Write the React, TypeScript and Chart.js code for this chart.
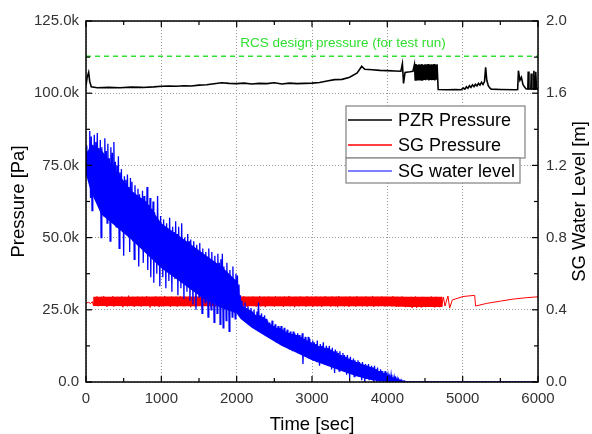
import React, { useEffect, useRef } from "react";
import { Chart, registerables } from "chart.js";

Chart.register(...registerables);

// ---------------- DATA ----------------
// PZR pressure (k Pa), explicit time (s) / value pairs
const pzrTime = [
  0, 15, 35, 50, 70, 150, 300, 450, 600, 750, 900, 1000, 1100, 1200, 1300, 1400, 1500, 1600, 1700, 1800,
  1900, 2000, 2100, 2200, 2300, 2400, 2500, 2600, 2700, 2800, 2900, 3000, 3100, 3200, 3300, 3400, 3500, 3600,
  3660, 3700, 3800, 3900, 4000, 4100, 4180, 4200, 4215, 4235, 4300, 4340,
  4360, 4370, 4380, 4390, 4400, 4410, 4420, 4430, 4440, 4450, 4460, 4470, 4480, 4490, 4500, 4510, 4520,
  4530, 4540, 4550, 4560, 4570, 4580, 4590, 4600, 4610, 4620, 4630, 4640, 4650, 4660,
  4675, 4800, 4900, 4980, 5010, 5030, 5050, 5070, 5090, 5110, 5130, 5150, 5170, 5190, 5210, 5230, 5250,
  5270, 5290, 5305, 5320, 5340, 5360, 5380, 5500, 5700, 5730, 5740, 5760, 5780, 5800, 5820, 5840, 5865,
  5870, 5880, 5905, 5910, 5920, 5940, 5945, 5955, 5965, 5970, 5980, 6000,
];
const pzrPressure = [
  102.6, 105.5, 107.2, 104.0, 102.2, 101.9, 102.0, 101.9, 102.1, 102.0, 102.2, 102.4, 102.5, 102.4, 102.6,
  102.5, 102.8, 102.9, 103.3, 103.6, 103.4, 103.3, 103.5, 103.2, 103.4, 103.3, 103.6, 103.2, 103.5, 103.3,
  103.4, 103.5, 103.7, 104.2, 104.7, 104.8, 105.5, 107.0, 109.3, 108.3, 108.1, 107.9, 107.8, 107.7, 107.6,
  110.2, 103.4, 107.2, 107.4, 107.6,
  109.9, 104.6, 110.1, 104.4, 109.8, 104.7, 110.0, 104.5, 109.9, 104.6, 110.1, 104.4, 109.8, 104.6, 110.0,
  104.5, 109.9, 104.7, 110.1, 104.4, 109.8, 104.6, 110.0, 104.5, 109.9, 104.6, 110.1, 104.4, 109.8, 104.7,
  110.0,
  101.3, 101.2, 101.3, 101.2, 101.8, 101.4, 102.2, 101.7, 102.6, 102.0, 102.9, 102.3, 103.1, 102.5, 103.4,
  102.8, 103.8, 103.0, 104.0, 109.0, 104.5, 102.6, 101.8, 101.4, 101.3, 101.2, 101.3, 107.8, 104.5, 105.5,
  103.0, 102.2, 101.5, 101.4, 107.5, 101.5, 101.4, 106.8, 101.5, 101.4, 107.8, 101.5, 101.4, 107.4, 101.5,
  101.5,
];

// SG pressure (k Pa)
const sgPressureHeadTime = [0, 30, 60, 85];
const sgPressureHead = [27.3, 27.6, 27.2, 27.8];
const SG_P_START = 100; // s, first sample of the noisy record
const SG_P_STEP = 15; // s, sampling interval of the noisy record
const sgPressureNoisy = [
  26.4, 29.3, 26.7, 29.6, 26.2, 29.0, 26.9, 29.5, 26.3, 29.8, 26.6, 29.2, 26.0, 29.4, 26.8, 29.1, 26.4, 29.7, 26.1, 29.3,
  26.7, 29.5, 26.3, 29.0, 26.5, 29.6, 25.9, 29.2, 26.6, 29.4, 26.2, 29.9, 26.8, 29.1, 26.3, 29.5, 26.0, 29.3, 26.7, 29.6,
  26.4, 29.2, 26.1, 29.5, 26.6, 29.0, 26.3, 29.7, 26.8, 29.3, 25.8, 29.4, 26.5, 29.1, 26.2, 29.6, 26.7, 29.2, 26.0, 29.5,
  26.5, 29.3, 26.2, 29.8, 26.6, 29.1, 26.4, 29.4, 26.0, 29.6, 26.7, 29.2, 26.3, 29.5, 26.1, 29.0, 26.6, 29.7, 26.4, 29.3,
  26.2, 29.5, 26.8, 29.1, 26.3, 29.6, 25.9, 29.3, 26.5, 29.4, 26.1, 29.8, 26.6, 29.2, 26.4, 29.5, 26.0, 29.1, 26.7, 29.6,
  26.3, 29.2, 26.6, 29.4, 26.1, 29.7, 26.5, 29.0, 26.2, 29.5, 26.8, 29.3, 26.0, 29.6, 26.4, 29.2, 26.7, 29.9, 26.2, 29.4,
  26.5, 29.1, 26.1, 29.5, 26.6, 29.3, 25.8, 29.6, 26.4, 29.2, 26.7, 29.4, 26.2, 29.7, 26.5, 29.0, 26.0, 29.5, 26.6, 29.3,
  26.3, 29.6, 26.7, 29.2, 26.1, 29.4, 26.5, 29.8, 26.2, 29.1, 26.6, 29.5, 25.9, 29.3, 26.4, 29.6, 26.8, 29.2, 26.3, 29.4,
  26.1, 29.7, 26.5, 29.0, 26.3, 29.5, 26.7, 29.3, 26.0, 29.6, 26.4, 29.2, 26.6, 29.8, 26.2, 29.4, 26.5, 29.1, 25.9, 29.5,
  26.6, 29.3, 26.2, 29.6, 26.4, 29.1, 26.8, 29.4, 26.1, 29.7, 26.5, 29.2, 26.3, 29.5, 26.0, 29.3, 26.7, 29.6, 26.2, 29.0,
  26.4, 29.5, 26.0, 29.3, 26.6, 29.7, 26.3, 29.1, 26.5, 29.4, 26.1, 29.6, 26.7, 29.2, 26.2, 29.5, 25.9, 29.8, 26.4, 29.3,
  26.6, 29.1, 26.2, 29.5, 26.5, 29.3, 26.0, 29.6, 26.7, 29.2, 26.3, 29.4, 26.1, 29.7, 26.6, 29.0, 26.4, 29.5, 26.2, 29.3,
  26.5, 29.6, 26.1, 29.2, 26.7, 29.4, 26.3, 29.8, 26.0, 29.1, 26.5, 29.5, 26.2, 29.3, 26.6, 29.6, 26.4, 29.2, 26.1, 29.5,
  26.3, 29.4, 26.6, 29.0, 26.2, 29.7, 26.5, 29.3, 26.0, 29.5, 26.1, 29.2, 26.3, 29.6, 26.4, 29.1, 25.9, 29.4, 26.3, 29.3,
  26.0, 29.5, 25.6, 29.2, 26.2, 29.6, 25.7, 29.3, 26.4, 29.0, 25.8, 29.5, 26.6, 29.2, 25.9, 29.4, 26.3, 29.1, 26.0, 29.6,
  26.2, 29.3, 25.8, 29.5, 26.4, 29.0, 25.9, 29.4, 26.1,
];
const sgPressureTailTime = [4745, 4765, 4805, 4827, 4863, 5004, 5159, 5172, 5315, 5500, 5668, 5850, 6000];
const sgPressureTail = [29.4, 26.3, 29.8, 25.6, 28.4, 29.6, 30.0, 26.3, 27.2, 28.0, 28.7, 29.2, 29.5];
// dense core of the SG pressure noise band (k Pa)
const sgPressureCoreTime = [95, 1000, 2000, 3000, 4000, 4300, 4735];
const sgPressureCoreHigh = [29.5, 29.6, 29.6, 29.6, 29.6, 29.5, 29.5];
const sgPressureCoreLow = [26.3, 26.2, 26.2, 26.2, 26.2, 26.0, 26.0];

// SG water level (m)
const SG_L_STEP = 10; // s, sampling interval of the noisy record (starts at 0 s)
const sgLevelNoisy = [
  1.20, 1.31, 1.13, 1.28, 1.15, 1.39, 1.02, 1.36, 0.95, 1.30, 1.08, 1.37, 1.04, 1.33, 1.10, 1.38, 1.00, 1.29, 1.06, 1.34,
  0.80, 1.30, 1.00, 1.26, 0.92, 1.35, 1.02, 1.28, 0.88, 1.32, 0.97, 1.24, 0.78, 1.30, 0.95, 1.27, 0.90, 1.33, 0.98, 1.22,
  0.86, 1.20, 0.95, 1.25, 0.74, 1.16, 0.92, 1.18, 0.85, 1.10, 0.70, 1.14, 0.90, 1.12, 0.82, 1.15, 0.88, 1.08, 0.72, 1.13,
  0.84, 1.11, 0.78, 1.05, 0.68, 1.09, 0.86, 1.02, 0.80, 1.07, 0.64, 1.04, 0.82, 1.00, 0.75, 1.06, 0.66, 1.03, 0.79, 0.98,
  0.72, 1.08, 0.62, 0.98, 0.76, 1.02, 0.58, 0.96, 0.70, 1.00, 0.55, 0.94, 0.73, 0.90, 0.60, 1.03, 0.68, 0.88, 0.53, 0.92,
  0.70, 0.86, 0.58, 0.90, 0.66, 0.84, 0.52, 0.88, 0.64, 0.82, 0.56, 0.91, 0.62, 0.80, 0.50, 0.86, 0.65, 0.83, 0.57, 0.89,
  0.60, 0.82, 0.48, 0.86, 0.63, 0.78, 0.52, 0.88, 0.58, 0.76, 0.46, 0.80, 0.61, 0.74, 0.50, 0.82, 0.55, 0.78, 0.45, 0.79,
  0.58, 0.74, 0.43, 0.78, 0.55, 0.70, 0.40, 0.76, 0.52, 0.72, 0.47, 0.77, 0.56, 0.68, 0.38, 0.74, 0.50, 0.70, 0.44, 0.72,
  0.52, 0.68, 0.36, 0.74, 0.48, 0.66, 0.40, 0.72, 0.50, 0.64, 0.33, 0.70, 0.46, 0.62, 0.38, 0.71, 0.45, 0.66, 0.32, 0.68,
  0.44, 0.71, 0.30, 0.64, 0.42, 0.60, 0.34, 0.66, 0.40, 0.58, 0.28, 0.62, 0.43, 0.56, 0.36, 0.64, 0.39, 0.55, 0.35, 0.60,
  0.40, 0.59, 0.38, 0.54, 0.39, 0.48, 0.36, 0.45, 0.38, 0.42, 0.35, 0.44, 0.37, 0.41, 0.34, 0.42, 0.36, 0.40, 0.33, 0.41,
  0.34, 0.39, 0.31, 0.40, 0.33, 0.37, 0.30, 0.39, 0.32, 0.44, 0.30, 0.37, 0.29, 0.38, 0.31, 0.36, 0.28, 0.37, 0.30, 0.35,
  0.29, 0.34, 0.26, 0.33, 0.28, 0.32, 0.24, 0.34, 0.27, 0.31, 0.25, 0.32, 0.22, 0.30, 0.26, 0.31, 0.24, 0.30, 0.22, 0.31,
  0.25, 0.29, 0.20, 0.30, 0.23, 0.28, 0.19, 0.29, 0.22, 0.27, 0.18, 0.28, 0.21, 0.26, 0.17, 0.28, 0.20, 0.27, 0.18, 0.26,
  0.19, 0.27, 0.16, 0.26, 0.20, 0.25, 0.15, 0.27, 0.10, 0.24, 0.17, 0.25, 0.14, 0.23, 0.18, 0.25, 0.13, 0.24, 0.16, 0.22,
  0.15, 0.23, 0.12, 0.22, 0.16, 0.21, 0.11, 0.23, 0.14, 0.20, 0.09, 0.21, 0.13, 0.20, 0.11, 0.22, 0.12, 0.19, 0.10, 0.20,
  0.12, 0.19, 0.09, 0.20, 0.11, 0.18, 0.07, 0.19, 0.10, 0.17, 0.05, 0.18, 0.09, 0.17, 0.08, 0.16, 0.06, 0.17, 0.09, 0.15,
  0.08, 0.16, 0.06, 0.15, 0.09, 0.14, 0.04, 0.15, 0.07, 0.13, 0.02, 0.14, 0.06, 0.12, 0.05, 0.13, 0.03, 0.12, 0.06, 0.11,
  0.04, 0.12, 0.03, 0.11, 0.05, 0.10, 0.01, 0.11, 0.03, 0.09, 0.00, 0.10, 0.02, 0.09, 0.04, 0.10, 0.01, 0.08, 0.02, 0.09,
  0.01, 0.08, 0.00, 0.09, 0.02, 0.07, 0.00, 0.08, 0.01, 0.06, 0.00, 0.07, 0.02, 0.06, 0.00, 0.05, 0.01, 0.06, 0.00, 0.05,
  0.00, 0.04, 0.01, 0.03, 0.00, 0.04, 0.00, 0.02, 0.01, 0.03, 0.00, 0.02, 0.00, 0.02, 0.00, 0.015, 0.00, 0.01, 0.00, 0.01,
  0.00, 0.005, 0.00, 0.005, 0.00, 0.00,
];
const sgLevelTailTime = [4260, 6000];
const sgLevelTail = [0, 0];
// dense core of the SG water level noise band (m)
const sgLevelCoreTime = [
  0, 60, 200, 400, 600, 800, 1000, 1200, 1400, 1600, 1800, 2000, 2050, 2200, 2400, 2600, 2800, 3000, 3200,
  3400, 3600, 3800, 4000, 4200,
];
const sgLevelCoreHigh = [
  1.25, 1.32, 1.29, 1.17, 1.06, 1.0, 0.88, 0.82, 0.76, 0.7, 0.64, 0.56, 0.43, 0.39, 0.32, 0.28, 0.26, 0.21,
  0.18, 0.14, 0.11, 0.08, 0.035, 0.005,
];
const sgLevelCoreLow = [
  1.15, 1.06, 0.93, 0.86, 0.79, 0.71, 0.63, 0.57, 0.51, 0.45, 0.41, 0.38, 0.35, 0.30, 0.25, 0.20, 0.16,
  0.12, 0.09, 0.06, 0.03, 0.01, 0.0, 0,
];

// RCS design pressure (k Pa)
const designPressure = 112.8;
const designLabel = "RCS design pressure (for test run)";

const legendLabels = ["PZR Pressure", "SG Pressure", "SG water level"];

// --------------------------------------
const FONT = 'Arial, "Liberation Sans", sans-serif';
const GREEN = "#30e030";

function pairs(t: number[], v: number[]) {
  return t.map((x, i) => ({ x, y: v[i] }));
}

const pzrData = pairs(pzrTime, pzrPressure);
const sgPData = [
  ...pairs(sgPressureHeadTime, sgPressureHead),
  ...sgPressureNoisy.map((y, i) => ({ x: SG_P_START + i * SG_P_STEP, y })),
  ...pairs(sgPressureTailTime, sgPressureTail),
];
const sgLData = [
  ...sgLevelNoisy.map((y, i) => ({ x: i * SG_L_STEP, y })),
  ...pairs(sgLevelTailTime, sgLevelTail),
];

const decorPlugin = {
  id: "decor",
  afterDatasetsDraw(chart: any) {
    const { ctx, chartArea: a, scales } = chart;
    const sx = scales.x, sy = scales.y, sy1 = scales.y1;
    ctx.save();
    ctx.strokeStyle = "#000";
    ctx.lineWidth = 1.2;
    const line = (x0: number, y0: number, x1: number, y1: number) => {
      ctx.beginPath();
      ctx.moveTo(x0, y0);
      ctx.lineTo(x1, y1);
      ctx.stroke();
    };
    for (let v = 0; v <= 6000; v += 500) {
      const px = sx.getPixelForValue(v);
      const len = v % 1000 === 0 ? 6 : 4;
      line(px, a.bottom, px, a.bottom - len);
      line(px, a.top, px, a.top + len);
    }
    for (let v = 0; v <= 125; v += 12.5) {
      const py = sy.getPixelForValue(v);
      const len = v % 25 === 0 ? 6 : 4;
      line(a.left, py, a.left + len, py);
    }
    for (let k = 0; k <= 10; k++) {
      const py = sy1.getPixelForValue(k * 0.2);
      const len = k % 2 === 0 ? 6 : 4;
      line(a.right, py, a.right - len, py);
    }
    ctx.lineWidth = 1.5;
    ctx.strokeRect(a.left, a.top, a.right - a.left, a.bottom - a.top);
    ctx.restore();
  },
  afterDraw(chart: any) {
    const { ctx, chartArea: a } = chart;
    ctx.save();
    // design pressure label
    ctx.fillStyle = GREEN;
    ctx.font = `13.5px ${FONT}`;
    ctx.textAlign = "center";
    ctx.textBaseline = "middle";
    ctx.fillText(designLabel, 343, 43);

    // right axis title
    ctx.save();
    ctx.translate(580, (a.top + a.bottom) / 2);
    ctx.rotate(-Math.PI / 2);
    ctx.fillStyle = "#000";
    ctx.font = `18.5px ${FONT}`;
    ctx.textAlign = "center";
    ctx.textBaseline = "middle";
    ctx.fillText("SG Water Level [m]", 0, 0);
    ctx.restore();

    // legend (two boxes as in the original)
    ctx.fillStyle = "#fff";
    ctx.strokeStyle = "#8a8a8a";
    ctx.lineWidth = 1.3;
    ctx.fillRect(346, 106, 179, 52);
    ctx.strokeRect(346, 106, 179, 52);
    ctx.fillRect(346, 158, 174, 25);
    ctx.strokeRect(346, 158, 174, 25);
    const colors = ["#000000", "#ff0000", "#0000ff"];
    const rows = [120, 145, 171];
    ctx.font = `18px ${FONT}`;
    ctx.textAlign = "left";
    ctx.textBaseline = "middle";
    legendLabels.forEach((lab, i) => {
      ctx.strokeStyle = colors[i];
      ctx.lineWidth = i === 2 ? 1.2 : 1.6;
      ctx.beginPath();
      ctx.moveTo(348, rows[i]);
      ctx.lineTo(392, rows[i]);
      ctx.stroke();
      ctx.fillStyle = "#000";
      ctx.fillText(lab, 398, rows[i] + 1);
    });
    ctx.restore();
  },
};

export default function App() {
  const ref = useRef<HTMLCanvasElement>(null);
  useEffect(() => {
    const gridColor = "#9a9a9a";
    const band = (data: any[], axis: string, color: string, fill: any) => ({
      data,
      yAxisID: axis,
      borderWidth: 0,
      borderColor: color,
      backgroundColor: color,
      pointRadius: 0,
      tension: 0,
      fill,
    });
    const chart = new Chart(ref.current as HTMLCanvasElement, {
      type: "line",
      data: {
        datasets: [
          {
            label: "SG water level",
            data: sgLData,
            yAxisID: "y1",
            borderColor: "#0000ff",
            borderWidth: 1.3,
            pointRadius: 0,
            tension: 0,
            fill: false,
          },
          band(pairs(sgLevelCoreTime, sgLevelCoreHigh), "y1", "#0000ff", "+1"),
          band(pairs(sgLevelCoreTime, sgLevelCoreLow), "y1", "#0000ff", false),
          {
            label: "SG Pressure",
            data: sgPData,
            yAxisID: "y",
            borderColor: "#ff0000",
            borderWidth: 1,
            pointRadius: 0,
            tension: 0,
            fill: false,
          },
          band(pairs(sgPressureCoreTime, sgPressureCoreHigh), "y", "#ff0000", 5),
          band(pairs(sgPressureCoreTime, sgPressureCoreLow), "y", "#ff0000", false),
          {
            label: "PZR Pressure",
            data: pzrData,
            yAxisID: "y",
            borderColor: "#000000",
            borderWidth: 1.6,
            pointRadius: 0,
            tension: 0,
            fill: false,
          },
          {
            label: "RCS design pressure",
            data: [
              { x: 0, y: designPressure },
              { x: 6000, y: designPressure },
            ],
            yAxisID: "y",
            borderColor: GREEN,
            borderWidth: 1.5,
            borderDash: [5, 4],
            pointRadius: 0,
            fill: false,
          },
        ],
      },
      options: {
        responsive: false,
        animation: false,
        devicePixelRatio: 1,
        layout: { padding: { top: 21, left: 0, right: 0, bottom: 0 } },
        plugins: { legend: { display: false }, tooltip: { enabled: false } },
        scales: {
          x: {
            type: "linear",
            min: 0,
            max: 6000,
            afterFit: (s: any) => {
              s.height = 52;
            },
            ticks: {
              stepSize: 1000,
              autoSkip: false,
              maxRotation: 0,
              padding: 8,
              color: "#333",
              font: { size: 15, family: FONT },
              callback: (v: any) => String(v),
            },
            grid: { drawTicks: false, color: gridColor, lineWidth: 1, borderDash: [1, 2] } as any,
            border: { display: false, dash: [1, 2] },
            title: {
              display: true,
              text: "Time [sec]",
              color: "#000",
              font: { size: 18.5, family: FONT, lineHeight: 1 },
              padding: { top: 0, bottom: 0 },
            },
          },
          y: {
            position: "left",
            min: 0,
            max: 125,
            afterFit: (s: any) => {
              s.width = 86;
            },
            ticks: {
              stepSize: 25,
              padding: 7,
              color: "#333",
              font: { size: 15, family: FONT },
              callback: (v: any) => (Number(v) === 0 ? "0.0" : Number(v).toFixed(1) + "k"),
            },
            grid: { drawTicks: false, color: gridColor, lineWidth: 1, borderDash: [1, 2] } as any,
            border: { display: false, dash: [1, 2] },
            title: {
              display: true,
              text: "Pressure [Pa]",
              color: "#000",
              font: { size: 18.5, family: FONT, lineHeight: 1 },
              padding: { top: 10, bottom: 0 },
            },
          },
          y1: {
            position: "right",
            min: 0,
            max: 2,
            afterFit: (s: any) => {
              s.width = 54;
            },
            ticks: {
              stepSize: 0.4,
              padding: 8,
              color: "#333",
              font: { size: 15, family: FONT },
              callback: (v: any) => Number(v).toFixed(1),
            },
            grid: { display: false, drawTicks: false },
            border: { display: false },
          },
        },
      } as any,
      plugins: [decorPlugin],
    });
    return () => chart.destroy();
  }, []);
  return (
    <div style={{ position: "fixed", left: 0, top: 0, width: 592, height: 434, background: "#fff" }}>
      <canvas ref={ref} width={592} height={434} style={{ width: 592, height: 434, display: "block" }} />
    </div>
  );
}
